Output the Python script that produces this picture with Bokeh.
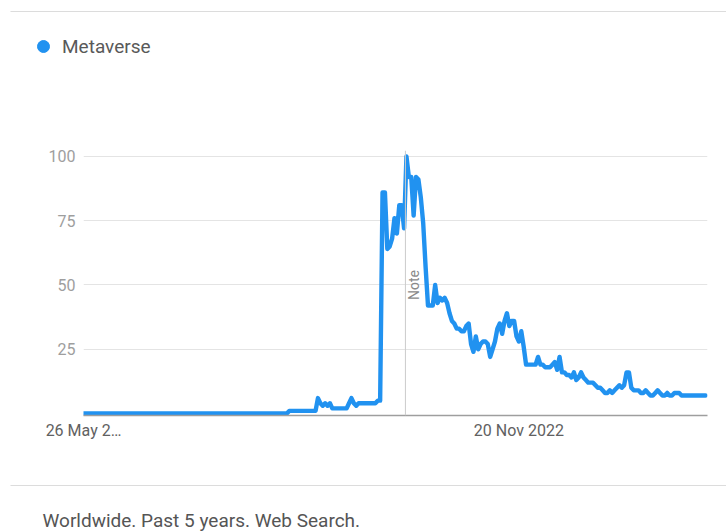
import math
import pandas as pd
from bokeh.plotting import figure
from bokeh.layouts import column
from bokeh.models import (Range1d, FixedTicker, Legend, LegendItem, Label, Span,
                          BoxAnnotation)
from bokeh.embed import file_html
from bokeh.resources import INLINE

# ---------------- data ----------------
SERIES_NAME = "Metaverse"
START_DATE = "2019-05-26"
N_WEEKS = 261
VALUES = [
    0, 0, 0, 0, 0, 0, 0, 0, 0, 0, 0, 0, 0, 0, 0, 0, 0, 0, 0, 0,
    0, 0, 0, 0, 0, 0, 0, 0, 0, 0, 0, 0, 0, 0, 0, 0, 0, 0, 0, 0,
    0, 0, 0, 0, 0, 0, 0, 0, 0, 0, 0, 0, 0, 0, 0, 0, 0, 0, 0, 0,
    0, 0, 0, 0, 0, 0, 0, 0, 0, 0, 0, 0, 0, 0, 0, 0, 0, 0, 0, 0,
    0, 0, 0, 0, 0, 0,
    1, 1, 1, 1, 1, 1, 1, 1, 1, 1, 1, 1,
    6, 4, 3, 4, 3, 4, 2, 2, 2, 2, 2, 2, 2, 4, 6, 4, 3,
    4, 4, 4, 4, 4, 4, 4, 4, 5, 5,
    86, 86, 64, 65, 68, 76, 70, 81, 81, 72, 100, 92, 92, 77, 92, 91, 84, 74, 57,
    42, 42, 42, 50, 43, 45, 44, 45, 43, 39, 36, 35, 33, 33, 32, 32, 34, 35,
    27, 24, 30, 25, 27, 28, 28, 27, 22, 25, 28, 33, 35, 31, 36, 39, 34, 36, 36,
    30, 28, 32, 26, 19, 19, 19, 19, 19, 22, 19, 19, 18, 18, 18, 19, 20, 17, 22,
    16, 16, 15, 15, 14, 16, 13, 14, 16, 14, 13, 12, 12, 12, 11, 10, 10, 9, 8, 8,
    9, 8, 9, 10, 11, 10, 11, 16, 16, 10, 9, 9, 9, 8, 8, 9, 8, 7, 7, 8, 9, 8, 7, 7,
    8, 7, 7, 8, 8, 8,
    7, 7, 7, 7, 7, 7, 7, 7, 7, 7, 7,
]
assert len(VALUES) == N_WEEKS, len(VALUES)

Y_TICKS = [25, 50, 75, 100]
X_TICK_DATES = ["2019-05-26", "2022-11-20"]
X_TICK_LABELS = ["26 May 2\u2026", "20 Nov 2022"]
NOTE_DATE = "2021-12-23"
NOTE_TEXT = "Note"
FOOTER_TEXT = "Worldwide. Past 5 years. Web Search."

# ---------------- build ----------------
dates = pd.date_range(START_DATE, periods=N_WEEKS, freq="7D")
WEEK_MS = 7 * 86400000
def ms(d):
    return pd.Timestamp(d).value // 10**6

x_ms = [ms(d) for d in dates]
x_start = x_ms[0]
x_end = x_ms[-1] + 0.84 * WEEK_MS

BLUE = "#2192F0"
SEP = "#dcdcdc"
W = 726
H_HEAD, H_MAIN, H_FOOT = 140, 330, 62


def blank(height):
    f = figure(width=W, height=height, output_backend="svg", toolbar_location=None,
               x_range=Range1d(0, W), y_range=Range1d(0, height),
               x_axis_location=None, y_axis_location=None,
               min_border=0, frame_align=False)
    f.grid.visible = False
    f.outline_line_color = None
    f.background_fill_color = "white"
    f.border_fill_color = "white"
    return f

# ---- header: legend + top separator ----
head = blank(H_HEAD)
head.add_layout(BoxAnnotation(left=10, right=W, bottom=H_HEAD - 11.5, top=H_HEAD - 10.5,
                              left_units="screen", right_units="screen",
                              top_units="screen", bottom_units="screen",
                              fill_color=SEP, fill_alpha=1, line_color=None))
dot = head.scatter(x=[float("nan")], y=[float("nan")], marker="circle",
                   fill_color=BLUE, line_color=BLUE)
legend = Legend(items=[LegendItem(label=SERIES_NAME, renderers=[dot])],
                location=(28, 79), orientation="vertical",
                glyph_width=30, glyph_height=30, label_standoff=4,
                padding=0, margin=0, spacing=0,
                border_line_color=None, background_fill_alpha=0,
                label_text_font="Roboto", label_text_font_size="19px",
                label_text_color="#595959")
head.add_layout(legend)

# ---- main chart ----
p = figure(width=W, height=H_MAIN, output_backend="svg", toolbar_location=None,
           x_range=Range1d(x_start, x_end), y_range=Range1d(-0.78, 102.3),
           min_border_left=83, min_border_right=19, min_border_top=10,
           min_border_bottom=55, x_axis_type="datetime", frame_align=False)
p.outline_line_color = None
p.background_fill_color = "white"
p.border_fill_color = "white"

p.line(x=x_ms, y=VALUES, line_color=BLUE, line_width=4.4,
       line_join="round", line_cap="round")

p.xgrid.grid_line_color = None
p.ygrid.grid_line_color = "#e4e4e4"
p.yaxis.ticker = FixedTicker(ticks=Y_TICKS)
p.yaxis.axis_line_color = None
p.yaxis.major_tick_line_color = None
p.yaxis.minor_tick_line_color = None
p.yaxis.major_tick_out = 0
p.yaxis.major_tick_in = 0
p.yaxis.major_label_text_font = "Roboto"
p.yaxis.major_label_text_font_size = "16px"
p.yaxis.major_label_text_color = "#9e9e9e"
p.yaxis.major_label_standoff = 8

tick_ms = [ms(d) for d in X_TICK_DATES]
p.xaxis.ticker = FixedTicker(ticks=tick_ms)
p.xaxis.major_label_overrides = {t: lab for t, lab in zip(tick_ms, X_TICK_LABELS)}
p.xaxis.axis_line_color = "#9e9e9e"
p.xaxis.axis_line_width = 1.5
p.xaxis.major_tick_line_color = None
p.xaxis.minor_tick_line_color = None
p.xaxis.major_tick_out = 0
p.xaxis.major_tick_in = 0
p.xaxis.major_label_text_font = "Roboto"
p.xaxis.major_label_text_font_size = "16px"
p.xaxis.major_label_text_color = "#616161"
p.xaxis.major_label_standoff = 5

note_x = ms(NOTE_DATE)
p.add_layout(Span(location=note_x, dimension="height", line_color="#cccccc",
                  line_width=1))
p.add_layout(Label(x=note_x, y=50, x_offset=9, text=NOTE_TEXT, angle=math.pi / 2,
                   text_align="center", text_baseline="middle",
                   text_font="Roboto", text_font_size="14px",
                   text_color="#8a8a8a"))

# ---- footer ----
foot = blank(H_FOOT)
foot.add_layout(BoxAnnotation(left=10, right=W, bottom=H_FOOT - 15.5, top=H_FOOT - 14.5,
                              left_units="screen", right_units="screen",
                              top_units="screen", bottom_units="screen",
                              fill_color=SEP, fill_alpha=1, line_color=None))
foot.add_layout(Label(x=42, y=12, x_units="screen", y_units="screen",
                      text=FOOTER_TEXT, text_baseline="middle",
                      text_font="Roboto", text_font_size="19px",
                      text_color="#555555"))

layout = column(head, p, foot, spacing=0)
open("out.html", "w").write(file_html(layout, INLINE))
